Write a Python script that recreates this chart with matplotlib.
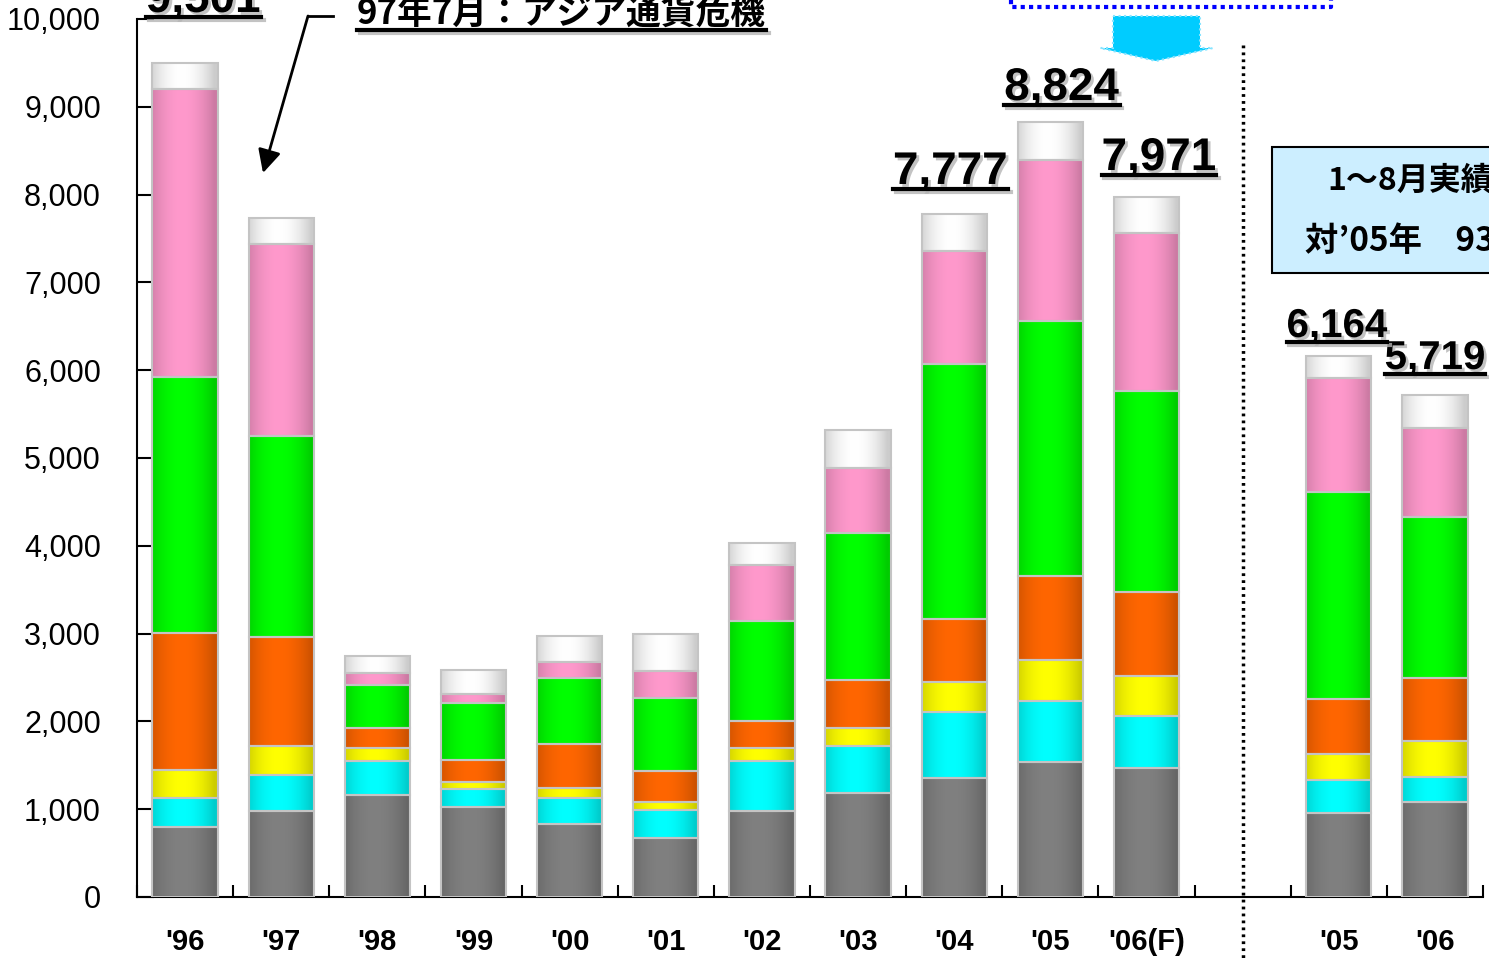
import numpy as np
import matplotlib.pyplot as plt
import matplotlib.patheffects as pe
from matplotlib.colors import to_rgb
from matplotlib.patches import Polygon, Rectangle
from matplotlib.lines import Line2D
from matplotlib.transforms import blended_transform_factory

# data
years = ["'96", "'97", "'98", "'99", "'00", "'01", "'02", "'03", "'04", "'05", "'06(F)", "'05", "'06"]
slots = [0, 1, 2, 3, 4, 5, 6, 7, 8, 9, 10, 12, 13]
gray = [797, 980, 1162, 1025, 835, 676, 980, 1185, 1352, 1534, 1473, 957, 1086]
cyan = [331, 410, 387, 205, 296, 311, 569, 531, 751, 698, 592, 379, 281]
yellow = [318, 333, 151, 83, 106, 98, 145, 212, 349, 471, 456, 289, 410]
orange = [1561, 1238, 228, 247, 509, 350, 311, 547, 714, 953, 953, 630, 721]
green = [2916, 2289, 487, 650, 752, 835, 1139, 1671, 2905, 2904, 2289, 2358, 1830]
pink = [3280, 2187, 136, 98, 175, 304, 637, 740, 1287, 1834, 1800, 1298, 1014]
other = [298, 296, 197, 274, 296, 418, 251, 433, 419, 430, 408, 253, 377]

series = [gray, cyan, yellow, orange, green, pink, other]
colors = ["#808080", "#00ffff", "#ffff00", "#ff6600", "#00ff00", "#ff99cc", "#ffffff"]

# which bars get a total label: (bar index, x, baseline y, font size)
labelled = [(0, 0.19, 10080, 33), (8, 7.96, 8121, 33), (9, 9.12, 9077, 33),
            (10, 10.13, 8280, 33), (11, 11.98, 6378, 29), (12, 13.0, 6014, 29)]

W, H = 1489, 958
fig = plt.figure(figsize=(W / 100, H / 100), dpi=100)
ax = fig.add_axes([137 / W, 1 - 897 / H, (1483 - 137) / W, (897 - 19) / H])


def shade(c):
    t = np.linspace(0, 1, 64)
    f = 0.8 + 0.2 * (1 - np.abs(2 * t - 0.9) ** 2).clip(0, 1)
    return (np.array(to_rgb(c))[None, None, :] * f[None, :, None]).clip(0, 1)


bottom = np.zeros(len(slots))
for vals, col in zip(series, colors):
    bars = ax.bar(slots, vals, bottom=bottom, width=0.68, facecolor="none",
                  edgecolor="#c4c4c4", linewidth=1.5, zorder=3)
    for p in bars:
        x0, y0 = p.get_x(), p.get_y()
        ax.imshow(shade(col), extent=[x0, x0 + p.get_width(), y0, y0 + p.get_height()],
                  aspect="auto", interpolation="bilinear", zorder=2)
    bottom += np.array(vals)
totals = bottom.astype(int)

ax.set_xlim(-0.5, 13.5)
ax.set_ylim(0, 10000)
ax.set_yticks(range(0, 10001, 1000))
ax.set_yticklabels([f"{v:,}" for v in range(0, 10001, 1000)], fontsize=22,
                   family="Liberation Sans")
ax.tick_params(axis="y", direction="in", length=12, width=1.5, pad=26)
ax.set_xticks(np.arange(-0.5, 14, 1))
ax.set_xticklabels([])
ax.tick_params(axis="x", which="major", direction="in", length=9, width=1.5)
ax.set_xticks(slots, minor=True)
ax.set_xticklabels(years, minor=True, fontsize=21, fontweight="bold",
                   family="Liberation Sans")
ax.tick_params(axis="x", which="minor", length=0, pad=22)
for s in ["top", "right"]:
    ax.spines[s].set_visible(False)
for s in ["left", "bottom"]:
    ax.spines[s].set_linewidth(1.5)

# dotted separator
bt = blended_transform_factory(ax.transData, ax.transAxes)
ax.plot([11, 11], [0.97, -0.08], transform=bt, clip_on=False, color="black",
        lw=2.5, linestyle=(0, (0.8, 1.2)), zorder=4)

shadow = [pe.SimplePatchShadow(offset=(2, -2), shadow_rgbFace="#b4b4b4", alpha=0.8), pe.Normal()]
texts = []
for i, x, y, fs in labelled:
    t = ax.text(x, y, f"{totals[i]:,}", ha="center", va="baseline", fontsize=fs,
                fontweight="bold", family="Liberation Sans", path_effects=shadow,
                zorder=5)
    texts.append(t)

jp = ["Noto Sans CJK JP", "DejaVu Sans"]
note = fig.text(357 / W, 1 - 25 / H, "97年7月：アジア通貨危機", fontsize=25,
                fontweight="bold", family=jp, ha="left", va="baseline")
texts.append(note)

fig.canvas.draw()
r = fig.canvas.get_renderer()
for t in texts:
    bb = t.get_window_extent(r)
    yb = t.get_transform().transform(t.get_position())[1] - 5
    fig.add_artist(Line2D([bb.x0 / W, bb.x1 / W], [yb / H, yb / H], color="black",
                          lw=3, path_effects=[pe.SimpleLineShadow(offset=(2, -2), shadow_color="#b4b4b4", alpha=0.8), pe.Normal()]))

# arrow to '97
fig.add_artist(Line2D([333 / W, 308 / W], [1 - 16 / H, 1 - 16 / H], color="black", lw=2))
ax.annotate("", xy=(263 / W, 1 - 173 / H), xytext=(308 / W, 1 - 16 / H),
            xycoords="figure fraction", textcoords="figure fraction",
            arrowprops=dict(arrowstyle="-|>", color="black", lw=2, mutation_scale=35,
                            shrinkA=0, shrinkB=0))

# blue dotted box (bottom edge) and cyan block arrow
fig.add_artist(Line2D([1011 / W, 1011 / W, 1331 / W, 1331 / W],
                      [1.0, 1 - 7 / H, 1 - 7 / H, 1.0], color="#0000ff", lw=3,
                      linestyle=(0, (1, 1))))
arrow_px = [(1113, 16), (1200, 16), (1200, 48), (1213, 48), (1156, 61), (1100, 48), (1113, 48)]
fig.patches.append(Polygon([(px / W, 1 - py / H) for px, py in arrow_px], closed=True,
                           transform=fig.transFigure, facecolor="#00ccff",
                           edgecolor="#88e4ff", lw=1.5, linestyle=":"))

# info box
fig.patches.append(Rectangle((1272 / W, 1 - 273 / H), 300 / W, 126 / H,
                             transform=fig.transFigure, facecolor="#cceeff",
                             edgecolor="black", lw=1.5))
fig.text(1327 / W, 1 - 181 / H, "1～8月実績", fontsize=23, fontweight="bold",
         family=jp, ha="left", va="center")
fig.text(1305 / W, 1 - 242 / H, "対’05年　93%", fontsize=24, fontweight="bold",
         family=jp, ha="left", va="center")

plt.savefig("out.png", dpi=100)
